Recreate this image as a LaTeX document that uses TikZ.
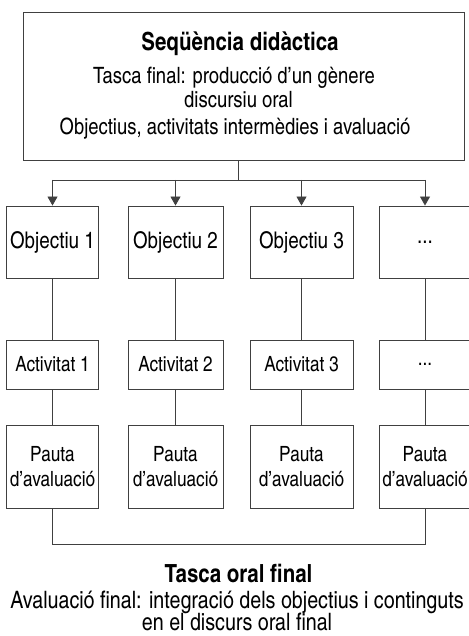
\documentclass[tikz,border=0pt]{standalone}
\usepackage{fontspec}
\setmainfont{texgyreheroscn-regular.otf}[BoldFont=texgyreheroscn-bold.otf]
\usetikzlibrary{arrows.meta}
\begin{document}
\begin{tikzpicture}[x=1pt,y=-1pt,
  line/.style={draw=black!75, line width=0.9pt},
  box/.style={line, rectangle, inner sep=0pt, align=center},
  objbox/.style={box, minimum height=72pt, font=\fontsize{23}{27}\selectfont},
  actbox/.style={box, minimum height=49pt, font=\fontsize{21}{25}\selectfont},
  pautabox/.style={box, minimum height=83pt, font=\fontsize{21}{25.5}\selectfont},
  txt/.style={inner sep=0pt, font=\fontsize{22.5}{26}\selectfont, anchor=base},
  btxt/.style={inner sep=0pt, font=\fontsize{24}{28}\selectfont, anchor=base},
  bold/.style={inner sep=0pt, font=\fontsize{25}{30}\selectfont\bfseries, anchor=base},
  arr/.style={line, -{Triangle[width=10pt,length=9pt]}}]
\useasboundingbox (0,0) rectangle (468,636);
% top box
\node[box, minimum width=441pt, minimum height=148pt] (top) at (243.5,86) {};
\node[bold] (t1) at (240,51) {Seqüència didàctica};
\node[txt] (t2) at (234,83.5) {Tasca final: producció d’un gènere};
\node[txt] (t3) at (238.5,108) {discursiu oral};
\node[txt] (t4) at (235,134.5) {Objectius, activitats intermèdies i avaluació};
\coordinate (j) at (238,180);
\coordinate (l) at (52.5,180);
\coordinate (r) at (425,180);
\draw[line] (j |- top.south) -- (j);
\draw[line] (l) -- (r);
% columns
\node[objbox, minimum width=92pt] (o1) at (52.5,242) {Objectiu 1};
\node[objbox, minimum width=95pt] (o2) at (175.5,242) {Objectiu 2};
\node[objbox, minimum width=103pt] (o3) at (301.5,242) {Objectiu 3};
\node[objbox, minimum width=92pt] (o4) at (425,242) {...};
\node[actbox, minimum width=92pt] (a1) at (52.5,364.5) {Activitat 1};
\node[actbox, minimum width=95pt] (a2) at (175.5,364.5) {Activitat 2};
\node[actbox, minimum width=103pt] (a3) at (301.5,364.5) {Activitat 3};
\node[actbox, minimum width=92pt] (a4) at (425,364.5) {...};
\node[pautabox, minimum width=92pt] (p1) at (52.5,466.5) {Pauta\\d’avaluació};
\node[pautabox, minimum width=95pt] (p2) at (175.5,466.5) {Pauta\\d’avaluació};
\node[pautabox, minimum width=103pt] (p3) at (301.5,466.5) {Pauta\\d’avaluació};
\node[pautabox, minimum width=92pt] (p4) at (425,466.5) {Pauta\\d’avaluació};
\foreach \i in {1,...,4} {
  \draw[arr] (o\i.north |- l) -- (o\i.north);
  \draw[line] (o\i) -- (a\i);
  \draw[line] (a\i) -- (p\i);
}
\coordinate (bl) at (52.5,544);
\coordinate (br) at (425,544);
\draw[line] (p1.south) -- (bl) -- (br) -- (p4.south);
% bottom text
\node[bold] (b1) at (238.5,582.5) {Tasca oral final};
\node[btxt] (b2) at (237,608) {Avaluació final: integració dels objectius i continguts};
\node[btxt] (b3) at (237,630) {en el discurs oral final};
\end{tikzpicture}
\end{document}
